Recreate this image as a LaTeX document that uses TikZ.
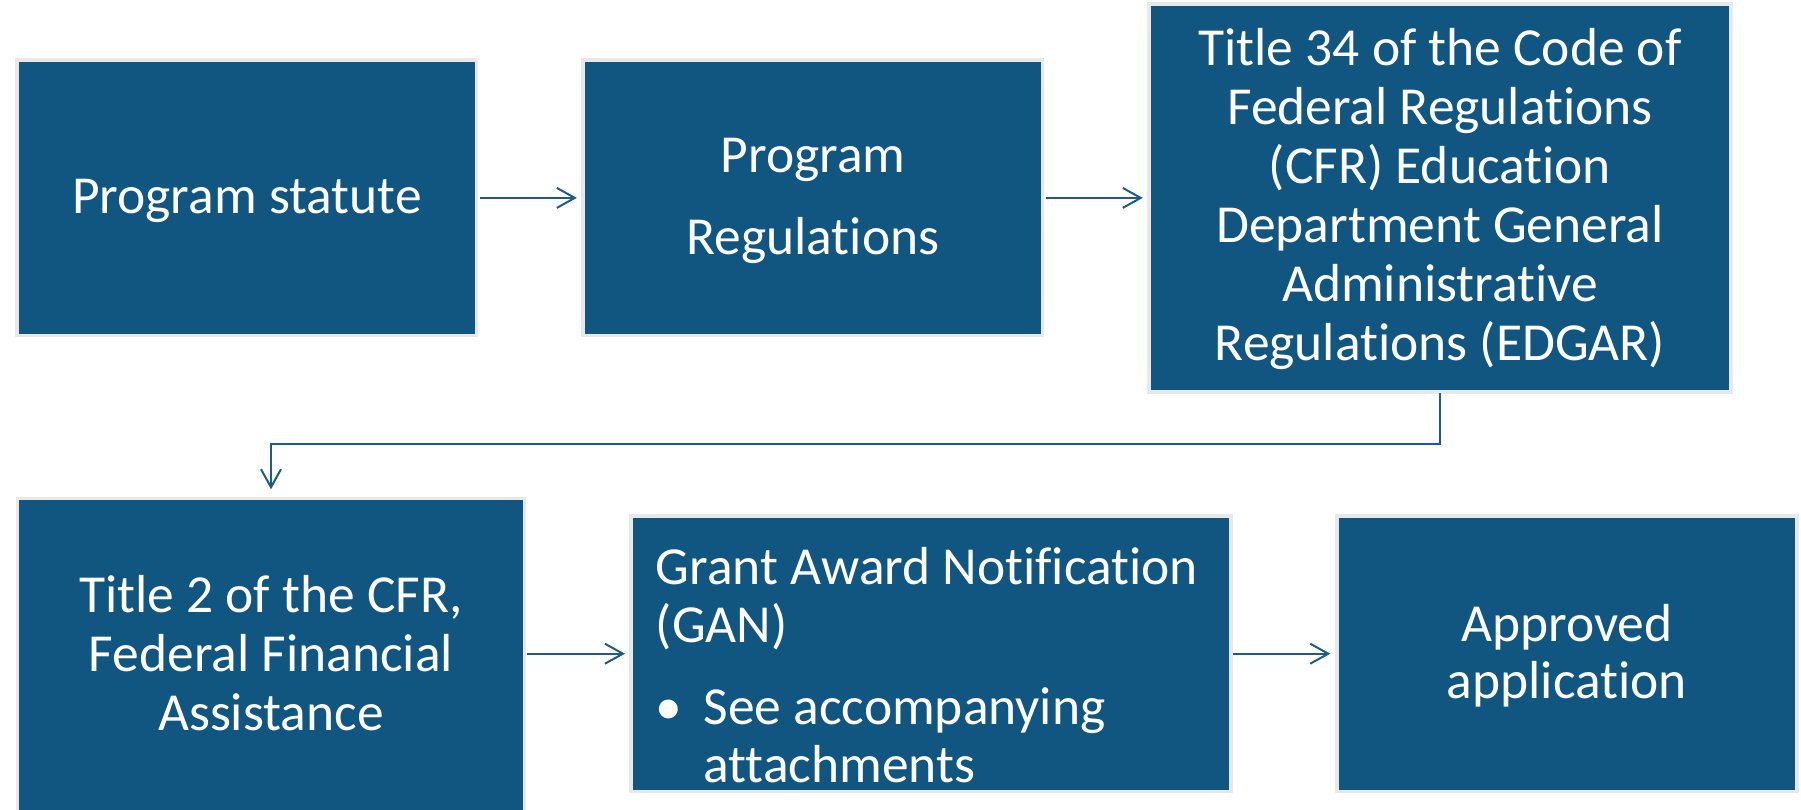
\documentclass[tikz,border=0pt]{standalone}
\usepackage{fontspec}
\setmainfont{Carlito}[Ligatures={NoCommon,NoContextual}]
\usetikzlibrary{arrows.meta}
\definecolor{boxblue}{RGB}{16,86,128}
\definecolor{boxedge}{RGB}{232,232,232}
\definecolor{arrowblue}{RGB}{28,92,136}
\newcommand\clines[2]{\vbox{\baselineskip=#1\relax\lineskiplimit=-1000pt\lineskip=0pt\halign{\hfil##\hfil\cr#2\crcr}}}
\newcommand\llines[2]{\vbox{\baselineskip=#1\relax\lineskiplimit=-1000pt\lineskip=0pt\halign{##\hfil\cr#2\crcr}}}
\begin{document}
\begin{tikzpicture}[x=1pt,y=-1pt,
  box/.style={rectangle, fill=boxblue, draw=boxedge, line width=3.5pt, inner sep=0pt, outer sep=0pt,
    text=white, font=\fontsize{53.5}{59}\selectfont, text depth=0pt},
  arr/.style={draw=arrowblue, line width=2pt, -{Straight Barb[length=18pt,width=20pt]}, shorten <=2pt, shorten >=6.2pt}]
\useasboundingbox (0,0) rectangle (1801,810);
\fill[white] (0,0) rectangle (1801,810);
\node[box, minimum width=459.4pt, minimum height=275.3pt, text height=30.8pt] (b1) at (246.9,197.9) {Program statute};
\node[box, minimum width=459.6pt, minimum height=275.3pt, text height=114.2pt] (b2) at (812.9,197.9) {\clines{82.7pt}{Program\cr Regulations}};
\node[box, minimum width=582pt, minimum height=387.5pt, text height=324pt] (b3) at (1440,198) {\clines{58.9pt}{Title 34 of the Code of\cr Federal Regulations\cr (CFR) Education\cr Department General\cr Administrative\cr Regulations (EDGAR)}};
\node[box, minimum width=507.2pt, minimum height=320pt, text height=143.4pt] (b4) at (271,658.3) {\clines{59pt}{Title 2 of the CFR,\cr Federal Financial\cr Assistance}};
\node[box, minimum width=600pt, minimum height=275.9pt, text height=258pt] (b5) at (931.2,653.7) {\hbox to 550.8pt{\llines{58.3pt}{Grant Award Notification\cr (GAN)\cr\noalign{\vskip23.4pt}\makebox[47.8pt][l]{•}See accompanying\cr\hspace*{47.8pt}attachments}\hfil}};
\node[box, minimum width=460pt, minimum height=275.9pt, text height=89.2pt] (b6) at (1566.8,653.7) {\clines{56.7pt}{Approved\cr application}};
\coordinate (elbow) at (0,444);
\draw[arr, shorten <=3pt] (b1.east) -- (b2.west);
\draw[arr, shorten <=3pt] (b2.east) -- (b2.east -| b3.west);
\draw[arr, shorten <=1.6pt, shorten >=9pt] (b3.south) -- (b3.south |- elbow) -- (b4.north |- elbow) -- (b4.north);
\draw[arr, shorten <=2.2pt] (b4.east |- b5.west) -- (b5.west);
\draw[arr, shorten <=1.4pt, shorten >=6.5pt] (b5.east) -- (b6.west);
\end{tikzpicture}
\end{document}
